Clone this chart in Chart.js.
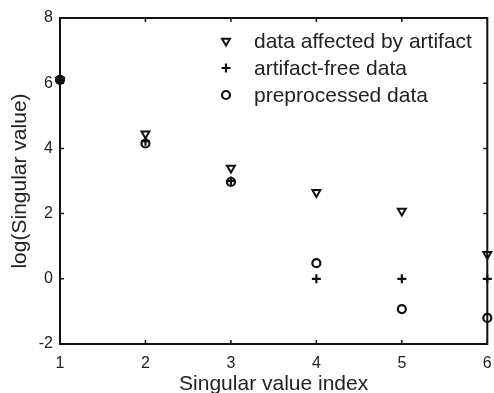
<!DOCTYPE html>
<html>
<head>
<meta charset="utf-8">
<script src="https://cdn.jsdelivr.net/npm/chart.js@4.4.1/dist/chart.umd.min.js"></script>
<style>
  html, body { margin: 0; padding: 0; background: #fff; }
  #wrap { width: 494px; height: 393px; }
</style>
</head>
<body>
<div id="wrap"><canvas id="grafico-singular"></canvas></div>
<script>
var indices = [1, 2, 3, 4, 5, 6];
var affected = [6.1, 4.45, 3.4, 2.65, 2.08, 0.75];
var artifactFree = [6.1, 4.22, 3.0, 0, 0, 0];
var preprocessed = [6.1, 4.15, 2.97, 0.48, -0.93, -1.2];
var xTicks = [1, 2, 3, 4, 5, 6];
var yTicks = [-2, 0, 2, 4, 6, 8];

var legendLabels = ["data affected by artifact", "artifact-free data", "preprocessed data"];

function pontos(valores) {
  return indices.map(function (x, i) { return { x: x, y: valores[i] }; });
}

var tinta = "#111";
var fonte = "'Liberation Sans', Arial, sans-serif";

// box around the axes with inward ticks on all four sides, plus the legend
var caixaPlugin = {
  id: "caixa",
  afterDatasetsDraw: function (chart) {
    var ctx = chart.ctx;
    var a = chart.chartArea;
    var sx = chart.scales.x;
    var sy = chart.scales.y;
    ctx.save();
    ctx.strokeStyle = tinta;
    ctx.lineWidth = 2;
    ctx.strokeRect(a.left, a.top, a.right - a.left, a.bottom - a.top);
    ctx.lineWidth = 1.5;
    xTicks.forEach(function (v) {
      var px = sx.getPixelForValue(v);
      ctx.beginPath();
      ctx.moveTo(px, a.bottom); ctx.lineTo(px, a.bottom - 4);
      ctx.moveTo(px, a.top); ctx.lineTo(px, a.top + 4);
      ctx.stroke();
    });
    yTicks.forEach(function (v) {
      var py = sy.getPixelForValue(v);
      ctx.beginPath();
      ctx.moveTo(a.left, py); ctx.lineTo(a.left + 4, py);
      ctx.moveTo(a.right, py); ctx.lineTo(a.right - 4, py);
      ctx.stroke();
    });

    // legend
    var mx = a.left + 166;
    var tx = a.left + 194;
    var y0 = a.top + 23;
    var dy = 27;
    chart.data.datasets.forEach(function (ds, i) {
      var y = y0 + i * dy;
      ctx.strokeStyle = tinta;
      ctx.fillStyle = "rgba(0,0,0,0)";
      ctx.lineWidth = ds.borderWidth;
      Chart.helpers.drawPoint(ctx, {
        pointStyle: ds.pointStyle,
        radius: ds.pointRadius,
        rotation: ds.rotation || 0,
        borderWidth: ds.borderWidth
      }, mx, y);
      ctx.font = "21px " + fonte;
      ctx.textBaseline = "middle";
      ctx.textAlign = "left";
      ctx.fillStyle = "#222";
      ctx.fillText(legendLabels[i], tx, y + 1);
    });
    ctx.restore();
  }
};

var graficoSingular = document.getElementById("grafico-singular").getContext("2d");

new Chart(graficoSingular, {
  type: "scatter",
  data: {
    datasets: [
      {
        label: legendLabels[0],
        data: pontos(affected),
        pointStyle: "triangle",
        rotation: 180,
        pointRadius: 4.6,
        borderWidth: 2,
        borderColor: tinta,
        backgroundColor: "rgba(0,0,0,0)",
        clip: false,
      },
      {
        label: legendLabels[1],
        data: pontos(artifactFree),
        pointStyle: "cross",
        pointRadius: 4.5,
        borderWidth: 2.2,
        borderColor: tinta,
        backgroundColor: "rgba(0,0,0,0)",
        clip: false,
      },
      {
        label: legendLabels[2],
        data: pontos(preprocessed),
        pointStyle: "circle",
        pointRadius: 4,
        borderWidth: 2.2,
        borderColor: tinta,
        backgroundColor: "rgba(0,0,0,0)",
        clip: false,
      },
    ],
  },
  options: {
    responsive: true,
    maintainAspectRatio: false,
    animation: false,
    layout: {
      padding: { top: 18, right: 6, left: 0, bottom: 0 },
    },
    plugins: {
      legend: { display: false },
      tooltip: { enabled: false },
      title: { display: false },
    },
    scales: {
      x: {
        type: "linear",
        min: 1,
        max: 6,
        afterBuildTicks: function (scale) {
          scale.ticks = xTicks.map(function (v) { return { value: v }; });
        },
        afterFit: function (scale) {
          scale.height = 49;
          scale.paddingLeft = 0;
          scale.paddingRight = 0;
        },
        grid: { display: false, drawTicks: false },
        border: { display: false },
        ticks: {
          color: "#222",
          padding: 10,
          maxRotation: 0,
          font: { family: fonte, size: 16 },
        },
        title: {
          display: true,
          text: "Singular value index",
          color: "#222",
          padding: { top: 0, bottom: -2 },
          font: { family: fonte, size: 21, lineHeight: 1 },
        },
      },
      y: {
        type: "linear",
        min: -2,
        max: 8,
        afterBuildTicks: function (scale) {
          scale.ticks = yTicks.map(function (v) { return { value: v }; });
        },
        afterFit: function (scale) {
          scale.width = 60;
          scale.paddingTop = 0;
          scale.paddingBottom = 0;
        },
        grid: { display: false, drawTicks: false },
        border: { display: false },
        ticks: {
          color: "#222",
          padding: 7,
          font: { family: fonte, size: 16 },
        },
        title: {
          display: true,
          text: "log(Singular value)",
          color: "#222",
          padding: { top: 7.5, bottom: 0 },
          font: { family: fonte, size: 21 },
        },
      },
    },
  },
  plugins: [caixaPlugin],
});
</script>
</body>
</html>
